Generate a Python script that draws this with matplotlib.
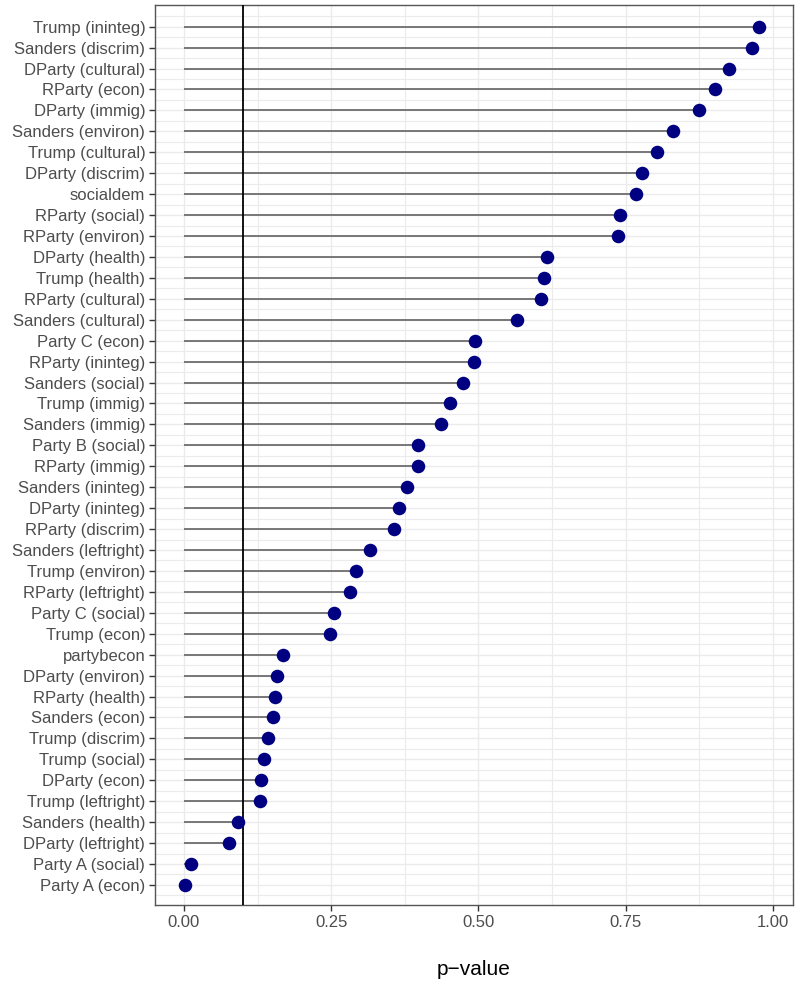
import numpy as np
import matplotlib
matplotlib.use('Agg')
import matplotlib.pyplot as plt

plt.rcParams['font.family'] = ['Liberation Sans', 'DejaVu Sans']

# items listed top to bottom, sorted by p-value
labels = ['Trump (ininteg)', 'Sanders (discrim)', 'DParty (cultural)', 'RParty (econ)',
          'DParty (immig)', 'Sanders (environ)', 'Trump (cultural)', 'DParty (discrim)',
          'socialdem', 'RParty (social)', 'RParty (environ)', 'DParty (health)',
          'Trump (health)', 'RParty (cultural)', 'Sanders (cultural)', 'Party C (econ)',
          'RParty (ininteg)', 'Sanders (social)', 'Trump (immig)', 'Sanders (immig)',
          'Party B (social)', 'RParty (immig)', 'Sanders (ininteg)', 'DParty (ininteg)',
          'RParty (discrim)', 'Sanders (leftright)', 'Trump (environ)', 'RParty (leftright)',
          'Party C (social)', 'Trump (econ)', 'partybecon', 'DParty (environ)',
          'RParty (health)', 'Sanders (econ)', 'Trump (discrim)', 'Trump (social)',
          'DParty (econ)', 'Trump (leftright)', 'Sanders (health)', 'DParty (leftright)',
          'Party A (social)', 'Party A (econ)']
pvalues = [0.976, 0.964, 0.926, 0.902, 0.875, 0.830, 0.803, 0.778,
           0.768, 0.740, 0.737, 0.617, 0.611, 0.606, 0.565, 0.495,
           0.492, 0.474, 0.452, 0.436, 0.398, 0.397, 0.379, 0.365,
           0.356, 0.316, 0.292, 0.282, 0.254, 0.248, 0.168, 0.158,
           0.154, 0.151, 0.143, 0.136, 0.131, 0.130, 0.092, 0.076,
           0.012, 0.002]
threshold = 0.1
xticks = [0.0, 0.25, 0.5, 0.75, 1.0]

n = len(labels)
ypos = np.arange(n, 0, -1)

fig = plt.figure(figsize=(7.95, 9.83), dpi=100)
ax = fig.add_axes([0.195, 0.0793, 0.8025, 0.9157])

# background grid (major + minor, both directions)
for y in ypos:
    ax.axhline(y, color='#ebebeb', lw=1.0, zorder=0)
for y in np.arange(0.5, n + 1, 1.0):
    ax.axhline(y, color='#ebebeb', lw=0.8, zorder=0)
for x in xticks:
    ax.axvline(x, color='#ebebeb', lw=1.0, zorder=0)
for x in [0.125, 0.375, 0.625, 0.875]:
    ax.axvline(x, color='#ebebeb', lw=0.8, zorder=0)

ax.hlines(ypos, 0, pvalues, color='#777777', lw=1.4, zorder=2)
ax.axvline(threshold, color='black', lw=1.3, zorder=3)
ax.scatter(pvalues, ypos, s=95, color='navy', zorder=4, linewidths=0)

ax.set_xlim(-0.049, 1.034)
ax.set_ylim(0.04, n + 1.04)
ax.set_yticks(ypos)
ax.set_yticklabels(labels)
ax.set_xticks(xticks)
ax.set_xticklabels(['0.00', '0.25', '0.50', '0.75', '1.00'])
ax.tick_params(axis='both', labelsize=12, labelcolor='#4d4d4d', color='#333333',
               length=4, width=1)
ax.tick_params(axis='y', pad=3)
ax.tick_params(axis='x', pad=3)

for s in ax.spines.values():
    s.set_color('#555555')
    s.set_linewidth(1.0)

ax.set_xlabel('p\u2212value', fontsize=15, labelpad=22)

fig.savefig('out.png', dpi=100)
